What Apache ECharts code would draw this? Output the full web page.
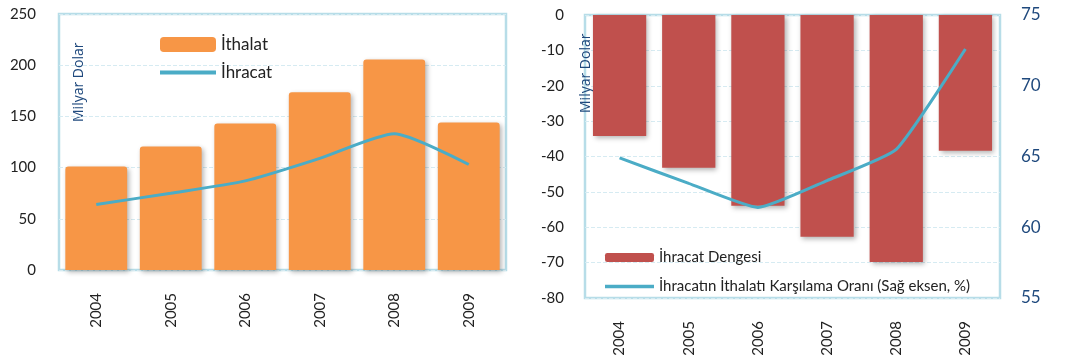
<!DOCTYPE html>
<html>
<head>
<meta charset="utf-8">
<script src="https://cdn.jsdelivr.net/npm/echarts@6/dist/echarts.min.js"></script>
<style>
  html, body { margin: 0; padding: 0; background: #fff; }
  #chart { width: 1073px; height: 361px; }
</style>
</head>
<body>
<div id="chart"></div>
<script>
// yıllar
var years = ['2004', '2005', '2006', '2007', '2008', '2009'];
// sol grafik (milyar dolar)
var ithalat = [101, 120.5, 143, 173.5, 205.5, 144];
var ihracat = [64, 75, 87, 109, 133, 103];
// sağ grafik
var dengesi = [-34.2, -43.2, -53.9, -62.7, -69.8, -38.4];
var karsilama = [64.9, 63.1, 61.4, 63.3, 65.5, 72.6];

var font = 'Lato, "Open Sans", sans-serif';
var blue = '#4bacc6';
var boxColor = '#b7dde8';
var splitColor = '#d6ebf2';
// legend icon for the line series: a plain thick line
var lineIcon = 'path://M0,0 L56,0 L56,4 L0,4 Z';

var chart = echarts.init(document.getElementById('chart'));

var barShadow = {
  shadowBlur: 5,
  shadowColor: 'rgba(0,0,0,0.3)',
  shadowOffsetX: 2,
  shadowOffsetY: 2
};

var option = {
  animation: false,
  textStyle: { fontFamily: font },
  grid: [
    { left: 59, top: 14, width: 447, height: 256, show: true, borderColor: boxColor, borderWidth: 2.5, backgroundColor: 'transparent' },
    { left: 585, top: 15, width: 415, height: 283, show: true, borderColor: boxColor, borderWidth: 2.5, backgroundColor: 'transparent' }
  ],
  legend: [
    {
      left: 160, top: 36, padding: 0, orient: 'vertical', itemWidth: 56, itemHeight: 15, itemGap: 11,
      textStyle: { fontSize: 17, color: '#222', fontFamily: font },
      data: ['İthalat', { name: 'İhracat', icon: lineIcon }]
    },
    {
      left: 605, top: 250, padding: 0, orient: 'vertical', itemWidth: 49, itemHeight: 9, itemGap: 14,
      textStyle: { fontSize: 15, color: '#222', fontFamily: font },
      data: ['İhracat Dengesi', { name: 'İhracatın İthalatı Karşılama Oranı (Sağ eksen, %)', icon: lineIcon }]
    }
  ],
  xAxis: [
    {
      gridIndex: 0, type: 'category', data: years,
      axisLine: { show: false }, axisTick: { show: false },
      axisLabel: { rotate: 90, margin: 23, fontSize: 15, color: '#222' }
    },
    {
      gridIndex: 1, type: 'category', data: years,
      axisLine: { show: false }, axisTick: { show: false },
      axisLabel: { rotate: 90, margin: 23, fontSize: 15, color: '#222' }
    }
  ],
  yAxis: [
    {
      gridIndex: 0, type: 'value', min: 0, max: 250, interval: 50,
      axisLine: { show: false }, axisTick: { show: false },
      axisLabel: { margin: 23, fontSize: 15, color: '#222' },
      splitLine: { lineStyle: { color: splitColor, type: 'dashed' } }
    },
    {
      gridIndex: 1, type: 'value', min: -80, max: 0, interval: 10,
      axisLine: { show: false }, axisTick: { show: false },
      axisLabel: { margin: 21, fontSize: 15, color: '#222' },
      splitLine: { lineStyle: { color: splitColor, type: 'dashed' } }
    },
    {
      gridIndex: 1, type: 'value', position: 'right', min: 55, max: 75, interval: 5,
      axisLine: { show: false }, axisTick: { show: false },
      axisLabel: { margin: 21, fontSize: 17, color: '#1f497d' },
      splitLine: { show: false }
    }
  ],
  series: [
    {
      name: 'İthalat', type: 'bar', xAxisIndex: 0, yAxisIndex: 0,
      data: ithalat, barCategoryGap: '17%',
      itemStyle: Object.assign({ color: '#f79646', borderRadius: [3, 3, 0, 0] }, barShadow)
    },
    {
      name: 'İhracat', type: 'line', xAxisIndex: 0, yAxisIndex: 0,
      data: ihracat, symbol: 'none', smooth: 0.2,
      lineStyle: { color: blue, width: 3 }, itemStyle: { color: blue }
    },
    {
      name: 'İhracat Dengesi', type: 'bar', xAxisIndex: 1, yAxisIndex: 1,
      data: dengesi, barCategoryGap: '23%',
      itemStyle: Object.assign({ color: '#c0504d' }, barShadow)
    },
    {
      name: 'İhracatın İthalatı Karşılama Oranı (Sağ eksen, %)', type: 'line', xAxisIndex: 1, yAxisIndex: 2,
      data: karsilama, symbol: 'none', smooth: 0.15,
      lineStyle: { color: blue, width: 3 }, itemStyle: { color: blue }
    }
  ],
  graphic: [
    {
      type: 'text', x: 72, y: 122, rotation: Math.PI / 2,
      style: { text: 'Milyar Dolar', fill: '#1f497d', font: '14px "Open Sans", sans-serif' }
    },
    {
      type: 'text', x: 579, y: 113, rotation: Math.PI / 2,
      style: { text: 'Milyar Dolar', fill: '#1f497d', font: '14px "Open Sans", sans-serif' }
    }
  ]
};

chart.setOption(option);
</script>
</body>
</html>
